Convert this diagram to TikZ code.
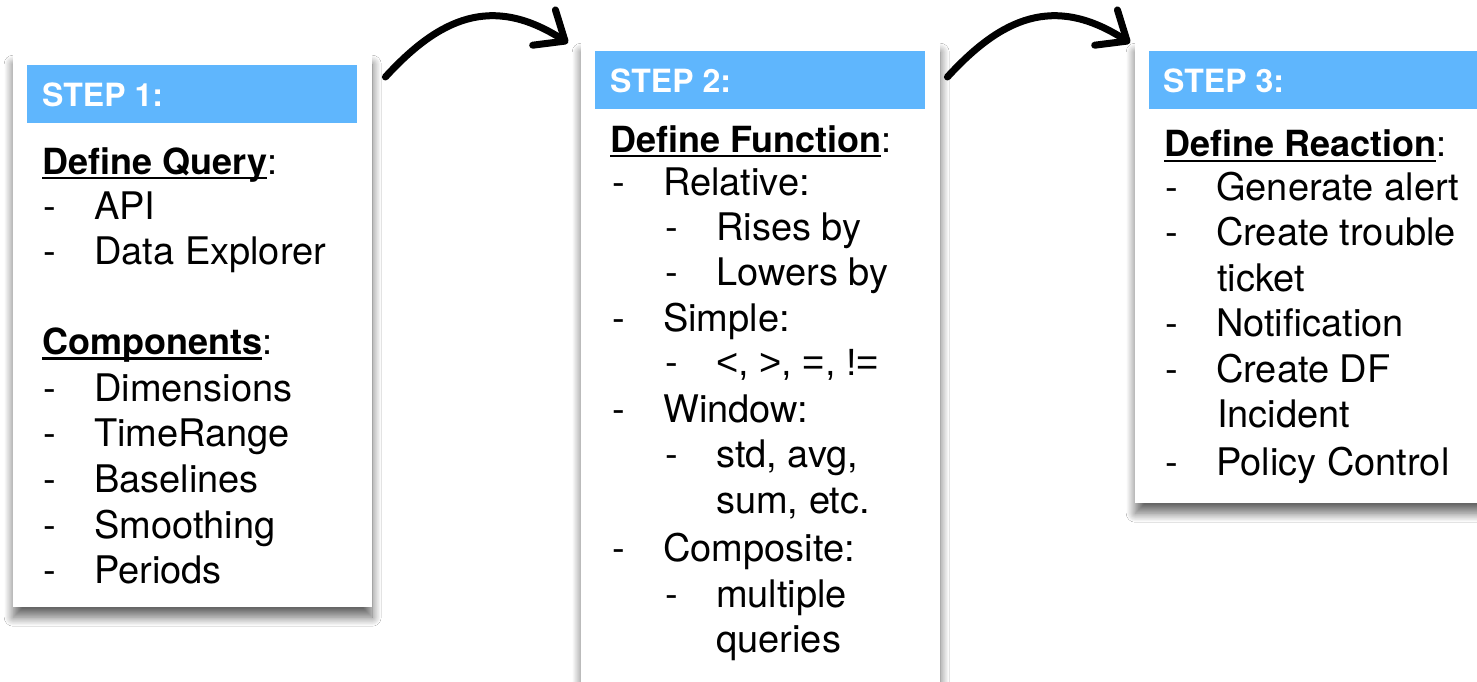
\documentclass[tikz,border=0pt]{standalone}
\usepackage{fontspec}
\setmainfont{TeX Gyre Heros}
\newfontfamily\altfont{Liberation Sans}
\usetikzlibrary{arrows.meta,shadows.blur}
\definecolor{hdrblue}{RGB}{95,182,253}
\newlength\myulen
\newcommand\myul[1]{\settowidth\myulen{\textbf{#1}}\rlap{\rule[-5.5pt]{\myulen}{2.6pt}}\textbf{#1}}
\newcommand\dashitem[1]{\makebox[51pt][l]{-}#1}
\begin{document}
\begin{tikzpicture}[x=1pt,y=-1pt,
  card/.style={fill=white, draw=none, inner sep=0pt, anchor=north west,
    blur shadow={shadow xshift=0pt, shadow yshift=-10pt, shadow blur radius=9pt, shadow blur steps=16, shadow opacity=60}},
  hdr/.style={fill=hdrblue, draw=none, inner sep=0pt, anchor=north west},
  steptxt/.style={anchor=base west, inner sep=0pt, text=white, font=\fontsize{32}{38}\selectfont\bfseries},
  ttl/.style={anchor=base west, inner sep=0pt, font=\fontsize{36}{40}\selectfont},
  txt/.style={anchor=base west, inner sep=0pt, font=\fontsize{38}{44}\selectfont},
  arr/.style={line width=7pt, line cap=round, -{Straight Barb[length=25pt,width=42pt,round]}}
]
\useasboundingbox (0,0) rectangle (1477,682);
\clip (0,0) rectangle (1477,682);
\fill[white] (0,0) rectangle (1477,682);

% ---- Box 1
\node[card, minimum width=359pt, minimum height=553pt] (b1) at (13,54) {};
\node[hdr, minimum width=330pt, minimum height=58pt] (h1) at (27,65) {};
\node[steptxt] (s1) at (42,107) {STEP 1:};
\node[ttl] (q1) at (42,174) {\myul{Define Query}:};
\node[txt] (q1a) at (43,219) {\dashitem{API}};
\node[txt] (q1b) at (43,264) {\dashitem{Data Explorer}};
\node[ttl] (c1) at (42,354) {\myul{Components}:};
\node[txt] (c1a) at (43,401) {\dashitem{Dimensions}};
\node[txt] (c1b) at (43,446) {\dashitem{TimeRange}};
\node[txt] (c1c) at (43,492) {\dashitem{Baselines}};
\node[txt] (c1d) at (43,538) {\dashitem{Smoothing}};
\node[txt] (c1e) at (43,583) {\dashitem{Periods}};

% ---- Box 2
\node[card, minimum width=359pt, minimum height=700pt] (b2) at (581,42) {};
\node[hdr, minimum width=330pt, minimum height=58pt] (h2) at (595,51) {};
\node[steptxt] (s2) at (610,93) {STEP 2:};
\node[ttl] (f2) at (610,152) {\myul{Define Function}:};
\node[txt] (f2a) at (612,195) {\dashitem{Relative:}};
\node[txt] (f2b) at (665,240) {\dashitem{Rises by}};
\node[txt] (f2c) at (665,285) {\dashitem{Lowers by}};
\node[txt] (f2d) at (612,331) {\dashitem{Simple:}};
\node[txt] (f2e) at (665,375) {\dashitem{{\altfont <, >, =, !=}}};
\node[txt] (f2f) at (612,422) {\dashitem{Window:}};
\node[txt] (f2g) at (665,467) {\dashitem{std, avg,}};
\node[txt] (f2h) at (716,513) {sum, etc.};
\node[txt] (f2i) at (612,561) {\dashitem{Composite:}};
\node[txt] (f2j) at (665,607) {\dashitem{multiple}};
\node[txt] (f2k) at (716,652) {queries};

% ---- Box 3
\node[card, minimum width=400pt, minimum height=461pt] (b3) at (1135,42) {};
\node[hdr, minimum width=360pt, minimum height=58pt] (h3) at (1149,51) {};
\node[steptxt] (s3) at (1163,93) {STEP 3:};
\node[ttl] (r3) at (1164,157) {\myul{Define Reaction}:};
\node[txt] (r3a) at (1165,200) {\dashitem{Generate alert}};
\node[txt] (r3b) at (1165,245) {\dashitem{Create trouble}};
\node[txt] (r3c) at (1217,291) {ticket};
\node[txt] (r3d) at (1165,336) {\dashitem{Notification}};
\node[txt] (r3e) at (1165,382) {\dashitem{Create DF}};
\node[txt] (r3f) at (1217,427) {Incident};
\node[txt] (r3g) at (1165,475) {\dashitem{Policy Control}};

% ---- Arrows
\coordinate (a1s) at ([shift={(13pt,-23pt)}]b1.north east);
\coordinate (a1e) at ([shift={(-13pt,-1pt)}]b2.north west);
\coordinate (a2s) at ([shift={(7pt,-35pt)}]b2.north east);
\coordinate (a2e) at ([shift={(-5pt,-1pt)}]b3.north west);
\draw[arr] (a1s) .. controls +(54,-59) and +(-76,-49) .. (a1e);
\draw[arr] (a2s) .. controls +(54,-59) and +(-76,-49) .. (a2e);
\end{tikzpicture}
\end{document}
